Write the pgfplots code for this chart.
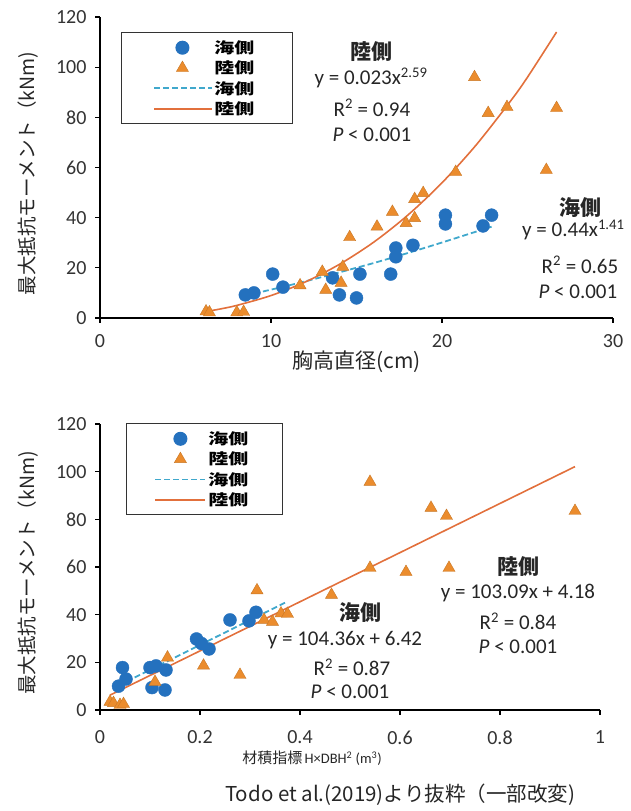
\documentclass[border=0pt]{standalone}
\usepackage{fontspec}
\usepackage{graphicx}
\usepackage{pgfplots}
\pgfplotsset{compat=1.18}
\setmainfont{Carlito}
\newfontfamily\jp{Noto Sans CJK JP}

\definecolor{seablue}{RGB}{36,113,190}
\definecolor{landtri}{RGB}{235,140,45}
\definecolor{landline}{RGB}{226,112,60}
\definecolor{seadash}{RGB}{64,168,204}

\newcommand\legtxt[1]{\makebox[44pt][l]{\jp\bfseries\fontsize{20}{20}\selectfont\scalebox{1}[0.75]{#1}}}
\newcommand\ann{\fontsize{21}{21}\selectfont}

\pgfplotsset{
  excel/.style={
    scale only axis,
    axis x line*=bottom, axis y line*=left,
    axis line style={black, line width=1.6pt},
    tick align=outside, major tick length=5pt,
    tick style={black, line width=1.2pt},
    ticklabel style={font=\fontsize{20}{20}\selectfont, text=black!80},
    yticklabel style={xshift=-5pt},
    xticklabel style={yshift=-8pt},
    /pgf/number format/assume math mode=true,
    ymin=0, ymax=120, ytick={0,20,...,120},
    ylabel={\jp 最大抵抗モーメント（kNm)},
    ylabel style={font=\fontsize{19.5}{19.5}\selectfont, text=black!85, yshift=11pt, xshift=-6pt},
    xlabel style={text=black!85},
    legend cell align=left,
    legend style={draw=black!80, line width=1pt, inner xsep=32pt, inner ysep=6pt,
      nodes={inner sep=2pt}, row sep=2pt},
    clip=false,
  },
  seapts/.style={only marks, mark=*, mark size=6.5pt, mark options={fill=seablue, draw=seablue}},
  landpts/.style={only marks, mark=triangle*, mark size=7pt, mark options={fill=landtri, draw=landtri!85!black, line width=0.4pt}},
}

\begin{document}
\begin{tikzpicture}
\useasboundingbox (0,0) rectangle (631pt,811pt);

% upper panel: DBH
\begin{axis}[excel, at={(100pt,493pt)}, anchor=south west,
  width=513pt, height=301pt,
  xmin=0, xmax=30, xtick={0,10,20,30},
  xlabel={\jp 胸高直径(cm)},
  xlabel style={font=\fontsize{21}{21}\selectfont, yshift=4pt},
  legend style={at={(0.041,0.95)}, anchor=north west},
  legend image code/.code={\draw[mark repeat=2,mark phase=2,#1] plot coordinates {(0pt,0pt) (28pt,0pt) (57pt,0pt)};},
]
\addplot[seapts] coordinates {
  (8.5,9.2) (9.0,10.0) (10.1,17.5) (10.7,12.3) (13.6,16.0) (14.0,9.2)
  (15.0,8.0) (15.2,17.5) (17.0,17.5) (17.3,27.9) (17.3,24.4) (18.3,29.0)
  (20.2,41.0) (20.2,37.5) (22.4,36.7) (22.9,41.0)
};
\addplot[landpts] coordinates {
  (6.2,2.6) (6.4,2.2) (8.0,2.2) (8.4,2.4) (11.7,13.0) (13.0,18.4) (13.2,11.2)
  (14.1,14.0) (14.2,20.4) (14.6,32.2) (16.2,36.4) (17.1,42.3) (17.9,37.8)
  (18.4,39.8) (18.4,47.4) (18.9,49.8) (20.8,58.2) (21.9,96.0) (22.7,81.7)
  (23.8,84.1) (26.1,59.0) (26.7,83.7)
};
\addplot[seadash, line width=1.8pt, dash pattern=on 6pt off 3pt, smooth] coordinates {
  (8.5,9.0) (10,11.3) (12,14.6) (14,18.2) (16,21.9) (18,25.9) (20,30.1) (22.9,36.4)
};
\addplot[landline, line width=1.6pt, smooth] coordinates {
  (6.3,2.7) (7,3.55) (8,5.02) (10,8.95) (12,14.35) (14,21.39) (16,30.2)
  (18,41.0) (20,53.9) (22,69.0) (24,86.4) (25,96.0) (26.7,114)
};
\legend{\legtxt{海側},\legtxt{陸側},\legtxt{海側},\legtxt{陸側}}

\node[font=\jp\bfseries\ann, text=black!85] at (axis cs:15.9,106.1) {陸側};
\node[font=\ann, text=black!85] at (axis cs:15.85,95.7) {y = 0.023x\textsuperscript{2.59}};
\node[font=\ann, text=black!85] at (axis cs:15.9,83.7) {R\textsuperscript{2} = 0.94};
\node[font=\ann, text=black!85] at (axis cs:15.9,73.0) {\textit{P} < 0.001};
\node[font=\jp\bfseries\ann, text=black!85] at (axis cs:28.07,43.9) {海側};
\node[font=\ann, text=black!85, anchor=west, inner sep=0pt] at (axis cs:24.68,35.1) {y = 0.44x\textsuperscript{1.41}};
\node[font=\ann, text=black!85] at (axis cs:28.07,21.1) {R\textsuperscript{2} = 0.65};
\node[font=\ann, text=black!85] at (axis cs:27.95,10.4) {\textit{P} < 0.001};
\end{axis}

% lower panel: stem volume index
\begin{axis}[excel, at={(100pt,101pt)}, anchor=south west,
  width=500pt, height=286pt,
  xmin=0, xmax=1, xtick={0,0.2,...,1},
  xticklabel style={yshift=-4pt},
  xlabel={{\jp\fontsize{15}{15}\selectfont 材積指標} {\fontsize{14.5}{14.5}\selectfont H×DBH\textsuperscript{2} (m\textsuperscript{3})}},
  xlabel style={xshift=-38pt, yshift=0pt},
  legend style={at={(0.052,1.003)}, anchor=north west, inner xsep=28pt},
  legend image code/.code={\draw[mark repeat=2,mark phase=2,#1] plot coordinates {(0pt,0pt) (25pt,0pt) (50pt,0pt)};},
]
\addplot[seapts] coordinates {
  (0.037,10.0) (0.045,17.8) (0.052,13.0) (0.100,17.8) (0.112,18.5) (0.132,16.8)
  (0.104,9.4) (0.130,8.4) (0.193,29.8) (0.203,27.9) (0.218,25.6) (0.260,37.8)
  (0.298,37.4) (0.312,41.0)
};
\addplot[landpts] coordinates {
  (0.020,3.4) (0.027,2.9) (0.040,2.1) (0.047,2.5) (0.110,11.8) (0.135,22.0)
  (0.207,18.6) (0.280,14.7) (0.314,50.2) (0.328,37.8) (0.345,37.0) (0.362,40.5)
  (0.375,40.3) (0.463,48.3) (0.540,59.6) (0.540,95.7) (0.612,57.9) (0.662,84.8)
  (0.693,81.4) (0.698,59.6) (0.950,83.5)
};
\addplot[seadash, line width=1.8pt, dash pattern=on 6pt off 3pt] coordinates {
  (0.037,10.28) (0.37,45.03)
};
\addplot[landline, line width=1.6pt] coordinates {
  (0.02,6.24) (0.95,102.12)
};
\legend{\legtxt{海側},\legtxt{陸側},\legtxt{海側},\legtxt{陸側}}

\node[font=\jp\bfseries\ann, text=black!85] at (axis cs:0.836,60.0) {陸側};
\node[font=\ann, text=black!85] at (axis cs:0.836,49.1) {y = 103.09x + 4.18};
\node[font=\ann, text=black!85] at (axis cs:0.836,37.3) {R\textsuperscript{2} = 0.84};
\node[font=\ann, text=black!85] at (axis cs:0.836,26.4) {\textit{P} < 0.001};
\node[font=\jp\bfseries\ann, text=black!85] at (axis cs:0.52,40.7) {海側};
\node[font=\ann, text=black!85] at (axis cs:0.49,29.4) {y = 104.36x + 6.42};
\node[font=\ann, text=black!85] at (axis cs:0.504,18.0) {R\textsuperscript{2} = 0.87};
\node[font=\ann, text=black!85] at (axis cs:0.50,7.6) {\textit{P} < 0.001};
\end{axis}

\node[font=\jp\fontsize{20.5}{20.5}\selectfont, text=black!85] at (400pt,16pt) {Todo et al.(2019)より抜粋（一部改変)};
\end{tikzpicture}
\end{document}
